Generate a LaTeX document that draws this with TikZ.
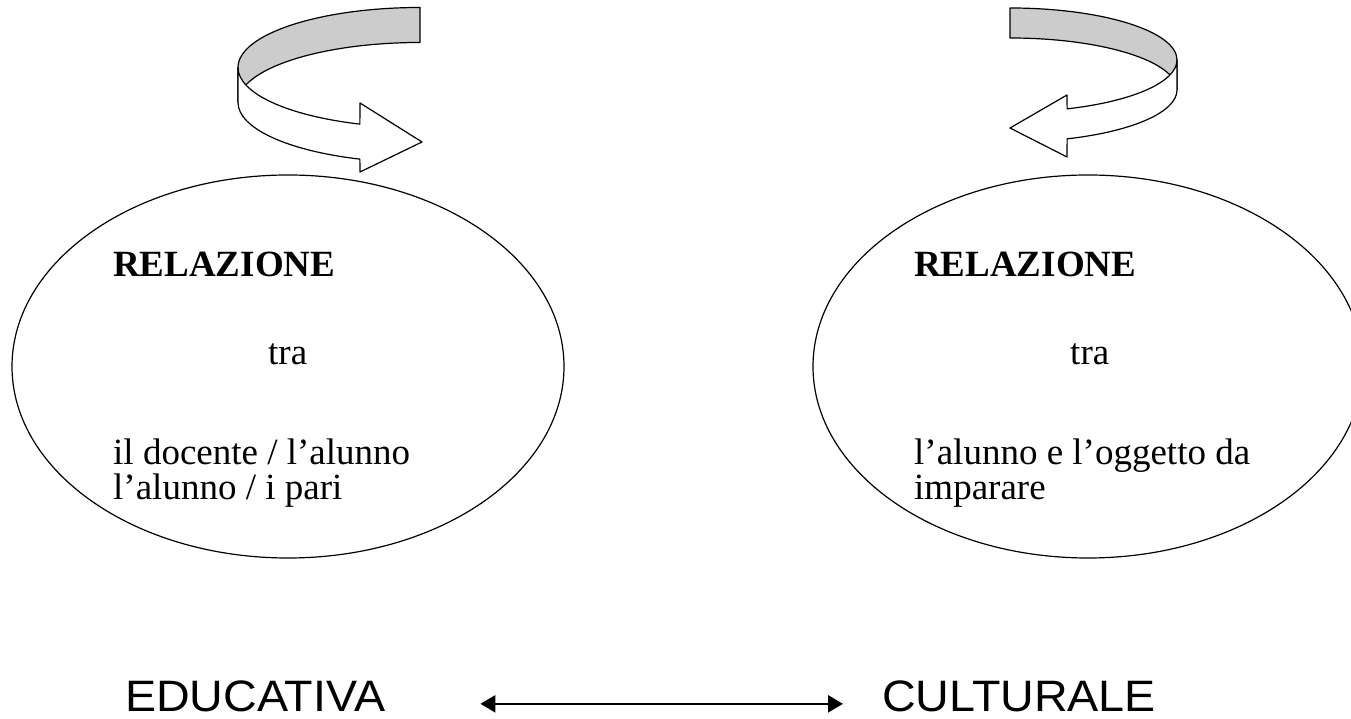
\documentclass[tikz,border=0pt]{standalone}
\usepackage{fontspec}
\setmainfont{Liberation Serif}
\newfontfamily\arialfont[FakeStretch=1.06]{Liberation Sans}
\usetikzlibrary{arrows.meta,calc,shapes.geometric}
\definecolor{bandgray}{RGB}{204,204,204}
\begin{document}
\begin{tikzpicture}[x=1pt,y=1pt,
  outline/.style={draw=black,line width=1.2pt,line join=round},
  backband/.style={outline,fill=bandgray},
  frontband/.style={outline,fill=white},
  oval/.style={ellipse,draw=black,line width=1.2pt,inner sep=0pt},
  serif/.style={inner sep=0pt,anchor=base west,font=\fontsize{37}{35}\selectfont,align=left},
  sans/.style={inner sep=0pt,anchor=base west,font=\arialfont\fontsize{44}{44}\selectfont},
  biarrow/.style={{Triangle[length=15pt,width=17pt]}-{Triangle[length=15pt,width=17pt]},line width=2.5pt}]
\useasboundingbox (0,0) rectangle (1351,719);
\clip (0,0) rectangle (1351,719);

% ellipses
\node[oval,minimum width=552pt,minimum height=383pt] (lov) at (288,352.5) {};
\node[oval,minimum width=550pt,minimum height=383pt] (rov) at (1088,352.5) {};

% left curved arrow
\draw[backband] (420,711.5) arc[start angle=90,end angle=180,x radius=182,y radius=60]
  -- ++(0,-35) arc[start angle=180,end angle=90,x radius=182,y radius=60] -- cycle;
\draw[frontband] (238,651.5) arc[start angle=180,end angle=250.7,x radius=182,y radius=60]
  coordinate (la1) -- (360,616) -- (422,577) -- (360,547) -- ($(la1)+(0,-35)$)
  arc[start angle=250.7,end angle=180,x radius=182,y radius=60] -- cycle;

% right curved arrow
\draw[backband] (1010,711) arc[start angle=90,end angle=0,x radius=167,y radius=52]
  -- ++(0,-30) arc[start angle=0,end angle=90,x radius=167,y radius=52] -- cycle;
\draw[frontband] (1177,659) arc[start angle=0,end angle=-70,x radius=167,y radius=52]
  coordinate (ra1) -- (1067,624) -- (1010,591) -- (1067,562) -- ($(ra1)+(0,-30)$)
  arc[start angle=-70,end angle=0,x radius=167,y radius=52] -- cycle;

% left texts
\node[serif] (lrel) at (113,442) {\bfseries RELAZIONE};
\node[serif] (ltra) at (268,354) {tra};
\node[serif] (lwho) at (113,219) {il docente / l’alunno\\l’alunno / i pari};

% right texts
\node[serif] (rrel) at (914,442) {\bfseries RELAZIONE};
\node[serif] (rtra) at (1070,354) {tra};
\node[serif] (rwho) at (914,219) {l’alunno e l’oggetto da\\imparare};

% bottom
\node[sans] (edu) at (125,7) {EDUCATIVA};
\node[sans] (cul) at (882,7) {CULTURALE};
\draw[biarrow] ([xshift=95pt,yshift=-7pt]edu.east) -- ([xshift=-39pt,yshift=-7pt]cul.west);
\end{tikzpicture}
\end{document}
